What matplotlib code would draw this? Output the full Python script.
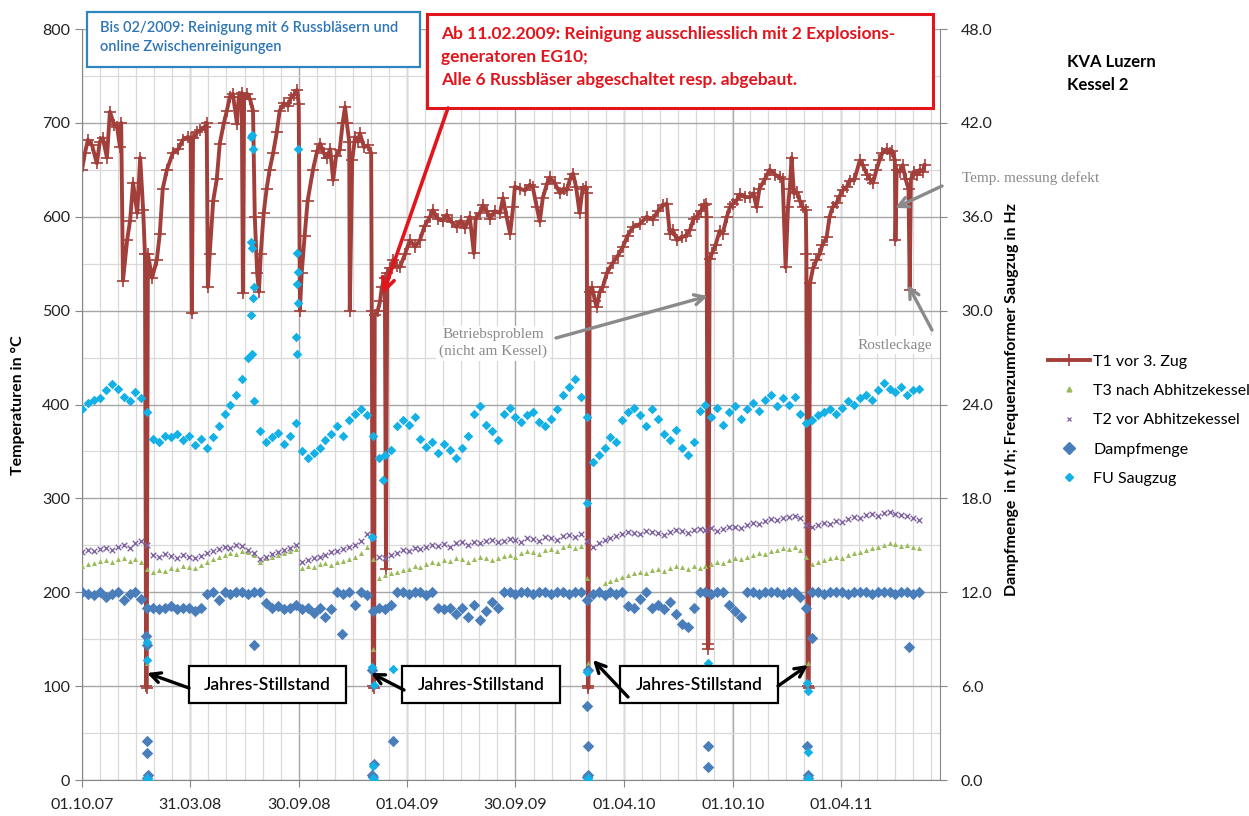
import matplotlib
matplotlib.use("Agg")
import matplotlib.pyplot as plt
import matplotlib.dates as mdates
from matplotlib.patches import Rectangle, FancyArrowPatch
from matplotlib.lines import Line2D
from matplotlib.ticker import FixedLocator, MultipleLocator, FormatStrFormatter
import pandas as pd

plt.rcParams["font.family"] = ["Lato", "DejaVu Sans"]

# -----------------------------------------------------------------------
# Data
# -----------------------------------------------------------------------
START = pd.Timestamp("2007-10-01")
END_DAY = 1445

# T1 vor 3. Zug (°C), days since START
t1_day = [0, 5, 10, 17, 25, 30, 35, 42, 47, 54, 59, 64, 66, 69, 76, 81, 86, 93, 98, 103,
          106, 108, 109, 111, 118, 126, 131, 136, 143, 153, 162, 170, 178, 183, 185, 187, 194, 199, 207, 210,
          212, 215, 221, 227, 232, 239, 244, 249, 254, 261, 264, 269, 271, 273, 278, 283, 288, 291, 295, 298,
          301, 306, 311, 316, 322, 328, 333, 340, 347, 352, 357, 362, 365, 367, 370, 375, 380, 389, 396, 401,
          407, 412, 418, 423, 428, 434, 439, 443, 446, 450, 451, 455, 460, 465, 468, 475, 481, 487, 488, 490,
          492, 493, 498, 502, 505, 510, 512, 514, 519, 524, 530, 535, 544, 552, 561, 569, 577, 586, 591, 599,
          608, 614, 623, 631, 638, 645, 653, 660, 663, 670, 675, 682, 687, 695, 704, 709, 715, 721, 726, 729,
          737, 746, 754, 759, 766, 771, 776, 783, 788, 796, 805, 811, 816, 822, 827, 832, 838, 843, 848, 850,
          852, 853, 855, 859, 864, 867, 872, 877, 884, 894, 902, 911, 919, 928, 939, 951, 961, 970, 978, 985,
          990, 995, 1002, 1010, 1017, 1024, 1030, 1035, 1042, 1047, 1051, 1052, 1054, 1055, 1057, 1061, 1067, 1074, 1079, 1086,
          1091, 1096, 1103, 1108, 1116, 1125, 1131, 1136, 1141, 1150, 1158, 1167, 1175, 1180, 1185, 1189, 1192, 1195, 1199, 1204,
          1209, 1214, 1219, 1220, 1222, 1224, 1226, 1231, 1237, 1242, 1247, 1254, 1259, 1264, 1271, 1276, 1281, 1288, 1293, 1301,
          1310, 1315, 1322, 1327, 1332, 1338, 1343, 1348, 1355, 1360, 1365, 1369, 1370, 1372, 1377, 1382, 1387, 1392, 1394, 1396,
          1401, 1406, 1411, 1416, 1419]
t1_temp = [650, 668, 682, 676, 657, 680, 684, 663, 712, 698, 696, 674, 700, 532, 575, 596, 636, 604, 663, 607,
           560, 100, 98, 560, 535, 554, 582, 630, 650, 668, 672, 682, 685, 684, 497, 684, 690, 692, 696, 700,
           525, 560, 617, 640, 678, 700, 713, 728, 731, 699, 728, 732, 519, 725, 731, 725, 713, 600, 540, 520,
           560, 604, 630, 650, 668, 690, 713, 721, 718, 727, 730, 735, 720, 500, 540, 580, 617, 650, 670, 678,
           668, 663, 672, 639, 665, 671, 700, 717, 700, 680, 500, 660, 685, 680, 689, 674, 676, 668, 500, 100,
           98, 495, 500, 510, 525, 535, 225, 540, 545, 554, 548, 546, 560, 575, 568, 575, 590, 600, 607, 598,
           596, 602, 594, 589, 596, 588, 600, 561, 598, 604, 612, 606, 598, 606, 604, 620, 600, 582, 610, 632,
           630, 628, 634, 632, 610, 595, 620, 635, 642, 636, 625, 630, 628, 640, 646, 632, 604, 630, 632, 625,
           100, 98, 520, 525, 510, 504, 520, 525, 540, 551, 558, 568, 580, 589, 592, 600, 597, 606, 612, 614,
           582, 586, 575, 578, 580, 586, 598, 600, 606, 612, 614, 600, 140, 145, 555, 561, 570, 585, 582, 600,
           610, 614, 618, 624, 621, 621, 625, 610, 630, 640, 650, 645, 642, 640, 546, 610, 630, 663, 625, 626,
           617, 610, 607, 560, 100, 98, 529, 545, 554, 560, 570, 578, 600, 610, 615, 622, 628, 632, 638, 640,
           660, 655, 645, 640, 636, 650, 660, 668, 672, 668, 670, 660, 575, 650, 648, 655, 640, 630, 522, 640,
           648, 645, 650, 648, 655]

# Regular samples every 10 days from START
SAMPLE_STEP = 10
fu_hz = [23.7, 24.1, 24.3, 24.4, 24.9, 25.3, 25.0, 24.5, 24.2, 24.8, 24.4, 23.5, 21.8, 21.6, 22.0, 21.9, 22.1, 21.7, 22.0, 21.4,
         21.8, 21.2, 21.9, 22.6, 23.4, 24.0, 24.6, 25.6, 27.0, 24.2, 22.3, 21.6, 21.9, 22.2, 21.5, 22.0, 22.8, 21.0, 20.6, 20.9,
         21.2, 21.7, 22.1, 22.6, 22.0, 23.0, 23.4, 23.7, 23.3, 22.0, 20.6, 20.8, 21.1, 22.6, 23.0, 22.7, 23.2, 21.8, 21.3, 21.6,
         20.9, 21.5, 21.1, 20.6, 21.2, 22.0, 23.4, 23.9, 22.7, 22.3, 21.7, 23.4, 23.8, 23.2, 22.9, 23.3, 23.5, 22.9, 22.6, 23.1,
         23.7, 24.6, 25.1, 25.6, 24.5, 23.2, 20.3, 20.8, 21.2, 21.9, 21.6, 23.0, 23.5, 23.8, 23.3, 22.6, 23.7, 23.1, 22.1, 21.7,
         22.4, 21.2, 20.8, 21.6, 23.6, 24.0, 23.2, 23.8, 22.7, 23.5, 23.9, 23.1, 23.7, 24.1, 23.6, 24.3, 24.6, 23.9, 24.4, 24.0,
         24.5, 23.4, 22.8, 23.0, 23.3, 23.5, 23.7, 23.4, 23.8, 24.2, 24.0, 24.4, 24.6, 24.3, 24.9, 25.4, 25.0, 24.8, 25.1, 24.6,
         24.9, 25.0]
dampf_th = [12.0, 11.9, 11.8, 12.0, 11.7, 11.9, 12.0, 11.5, 11.9, 12.0, 11.6, 11.0, 11.0, 10.9, 11.0, 11.1, 10.9, 11.0, 11.0, 10.8,
            11.0, 11.9, 12.0, 11.5, 12.0, 11.9, 12.0, 12.0, 11.9, 12.0, 12.0, 11.3, 11.0, 11.1, 10.9, 11.0, 11.2, 10.9, 11.0, 10.7,
            11.0, 10.4, 10.9, 12.0, 11.9, 12.0, 11.2, 12.0, 11.8, 10.8, 11.0, 10.9, 11.2, 12.0, 12.0, 11.9, 12.0, 12.0, 11.8, 12.0,
            11.0, 10.9, 11.0, 10.6, 11.0, 10.4, 11.2, 10.2, 10.8, 11.4, 11.0, 12.0, 12.0, 11.9, 12.0, 12.0, 11.9, 12.0, 12.0, 11.9,
            12.0, 12.0, 11.9, 12.0, 12.0, 11.5, 11.9, 12.0, 11.8, 12.0, 11.9, 12.0, 11.1, 11.0, 11.6, 12.0, 11.0, 11.2, 10.9, 11.4,
            10.6, 10.0, 9.8, 11.0, 12.0, 12.0, 11.9, 12.0, 12.0, 11.2, 10.8, 10.4, 12.0, 12.0, 11.9, 12.0, 12.0, 12.0, 11.9, 12.0,
            12.0, 11.7, 11.0, 12.0, 12.0, 11.9, 12.0, 12.0, 12.0, 11.9, 12.0, 12.0, 12.0, 11.9, 12.0, 12.0, 12.0, 11.9, 12.0, 12.0,
            11.9, 12.0]
t2_temp = [243, 245, 244, 246, 247, 245, 248, 250, 247, 252, 255, 250, 240, 238, 241, 239, 237, 240, 238, 236,
           239, 242, 244, 246, 248, 247, 250, 249, 245, 242, 235, 238, 241, 243, 245, 247, 250, 232, 234, 236,
           238, 240, 243, 244, 246, 248, 250, 255, 262, 258, 238, 236, 240, 242, 245, 244, 247, 246, 248, 250,
           249, 251, 248, 252, 253, 250, 254, 252, 255, 256, 253, 255, 257, 256, 254, 258, 257, 255, 259, 258,
           256, 260, 261, 259, 262, 255, 248, 252, 256, 258, 260, 262, 264, 263, 262, 265, 264, 263, 261, 264,
           266, 265, 263, 266, 267, 266, 268, 265, 267, 269, 270, 268, 272, 274, 273, 276, 278, 277, 279, 280,
           281, 279, 272, 270, 272, 274, 273, 276, 275, 278, 280, 279, 282, 283, 281, 284, 285, 283, 282, 281,
           279, 277]
t3_temp = [228, 230, 231, 233, 234, 232, 235, 236, 233, 235, 232, 225, 222, 224, 223, 226, 225, 228, 227, 226,
           229, 232, 235, 238, 240, 242, 241, 244, 243, 240, 232, 236, 238, 240, 242, 244, 246, 226, 228, 227,
           230, 231, 229, 232, 233, 235, 238, 242, 248, 235, 215, 218, 220, 222, 224, 225, 228, 227, 230, 232,
           231, 234, 233, 236, 235, 232, 235, 238, 236, 234, 237, 239, 240, 238, 242, 244, 243, 241, 245, 246,
           244, 248, 250, 247, 249, 215, 200, 205, 210, 212, 214, 216, 218, 220, 222, 221, 224, 225, 223, 226,
           228, 227, 225, 228, 226, 228, 230, 232, 231, 234, 236, 235, 238, 240, 242, 241, 244, 245, 247, 246,
           248, 245, 238, 230, 232, 234, 236, 238, 237, 240, 242, 243, 245, 247, 248, 250, 252, 251, 249, 250,
           248, 247]

# Outliers (shutdowns and spikes), days since START
fu_extra_day = [109, 110, 110, 111, 284, 287, 288, 285, 287, 290, 288, 284, 286,
                364, 362, 363, 362, 363, 361, 362, 489, 491, 490, 490, 491, 488, 507, 524,
                851, 852, 853, 850, 1055, 1221, 1223, 1222, 1222, 1223]
fu_extra_hz = [8.8, 7.7, 0.1, 0.0, 41.1, 41.2, 40.3, 34.4, 34.0, 31.5, 30.8, 29.7, 27.2,
               40.3, 33.7, 32.5, 31.7, 30.5, 28.3, 27.2, 7.2, 6.1, 0.9, 0.1, 0.0, 15.5, 19.2, 7.1,
               6.9, 0.1, 0.0, 17.7, 7.5, 6.2, 5.7, 1.8, 0.1, 0.0]
dampf_extra_day = [108, 110, 109, 110, 111, 110, 290, 438, 489, 490, 491, 524, 489,
                   851, 852, 852, 850, 853, 1055, 1055, 1221, 1222, 1223, 1230, 1392]
dampf_extra_th = [9.2, 8.6, 2.5, 1.7, 0.3, 0.1, 8.6, 9.3, 0.3, 0.2, 1.0, 2.5, 7.0,
                  0.2, 0.3, 2.2, 4.7, 7.0, 2.2, 0.8, 2.2, 0.3, 0.1, 9.1, 8.5]
t3_extra_day = [110, 490, 852, 1222]
t3_extra_temp = [125, 140, 125, 125]

# x-axis labels (Excel style)
tick_dates = ["2007-10-01", "2008-03-31", "2008-09-30", "2009-04-01",
              "2009-09-30", "2010-04-01", "2010-10-01", "2011-04-01"]


def days_to_dates(days):
    return START + pd.to_timedelta(days, unit="D")


t1_dates = days_to_dates(t1_day)
sample_dates = pd.date_range(START, periods=len(fu_hz), freq=f"{SAMPLE_STEP}D")

# -----------------------------------------------------------------------
# Figure
# -----------------------------------------------------------------------
W, H = 1249, 816
fig = plt.figure(figsize=(W / 100, H / 100), dpi=100)


def fx(x):
    return x / W


def fy(y):
    return 1 - y / H


ax = fig.add_axes([fx(82), fy(780), (940 - 82) / W, (780 - 29) / H])
ax2 = ax.twinx()

C_T1 = "#A33F3B"
C_T3 = "#9BBB59"
C_T2 = "#8064A2"
C_DAMPF = "#4A7EBB"
C_FU = "#14B1E7"
GRID_MAJ = "#A6A6A6"
GRID_MIN = "#D9D9D9"

ax.plot(t1_dates, t1_temp, "-", color=C_T1, lw=2.8, marker="+", ms=8, mew=1.2, zorder=2)
ax.scatter(sample_dates, t3_temp, marker="^", s=13, color=C_T3, zorder=3, linewidths=0)
ax.scatter(days_to_dates(t3_extra_day), t3_extra_temp, marker="^", s=13, color=C_T3, zorder=3, linewidths=0)
ax.scatter(sample_dates, t2_temp, marker="x", s=16, color=C_T2, zorder=3, linewidths=1.0)

ax2.scatter(sample_dates, dampf_th, marker="D", s=34, color=C_DAMPF, zorder=3, linewidths=0)
ax2.scatter(days_to_dates(dampf_extra_day), dampf_extra_th, marker="D", s=34, color=C_DAMPF, zorder=3, linewidths=0)
ax2.scatter(sample_dates, fu_hz, marker="D", s=24, color=C_FU, zorder=4, linewidths=0)
ax2.scatter(days_to_dates(fu_extra_day), fu_extra_hz, marker="D", s=24, color=C_FU, zorder=4, linewidths=0)

# axes ranges and ticks
x0 = mdates.date2num(START)
ax.set_xlim(x0, x0 + END_DAY)
ax.set_ylim(0, 800)
ax2.set_ylim(0, 48)

ax.xaxis.set_major_locator(FixedLocator(mdates.date2num(pd.to_datetime(tick_dates))))
ax.xaxis.set_major_formatter(mdates.DateFormatter("%d.%m.%y"))
ax.xaxis.set_minor_locator(FixedLocator([x0 + k * 182.5 / 6 for k in range(48)]))
ax.yaxis.set_major_locator(MultipleLocator(100))
ax.yaxis.set_minor_locator(MultipleLocator(50))
ax2.yaxis.set_major_locator(MultipleLocator(6))
ax2.yaxis.set_major_formatter(FormatStrFormatter("%.1f"))

ax.grid(which="major", color=GRID_MAJ, lw=1.0, zorder=0)
ax.grid(which="minor", color=GRID_MIN, lw=0.9, zorder=0)
ax.set_axisbelow(True)

for a in (ax, ax2):
    a.tick_params(which="major", length=5, color="#868686", labelsize=11.5, labelcolor="#222222")
    a.tick_params(which="minor", length=0)
    for s in a.spines.values():
        s.set_visible(False)
ax.spines["left"].set_visible(True)
ax.spines["left"].set_color("#868686")
ax.spines["bottom"].set_visible(True)
ax.spines["bottom"].set_color("#868686")
ax2.spines["right"].set_visible(True)
ax2.spines["right"].set_color("#868686")
ax.tick_params(axis="x", pad=8)
ax2.tick_params(axis="y", pad=10)

fig.text(fx(18), fy(405), "Temperaturen in °C", rotation=90, ha="center", va="center",
         fontsize=11.5, fontweight="bold")
fig.text(fx(1012), fy(400), "Dampfmenge  in t/h; Frequenzumformer Saugzug in Hz", rotation=90,
         ha="center", va="center", fontsize=11.5, fontweight="bold")

fig.text(fx(1067), fy(62), "KVA Luzern", fontsize=12, fontweight="bold", va="center")
fig.text(fx(1067), fy(85), "Kessel 2", fontsize=12, fontweight="bold", va="center")

# legend
handles = [
    Line2D([], [], color=C_T1, lw=2.8, marker="+", ms=8, mew=1.2),
    Line2D([], [], ls="", marker="^", ms=3.5, color=C_T3),
    Line2D([], [], ls="", marker="x", ms=3.5, mew=0.9, color=C_T2),
    Line2D([], [], ls="", marker="D", ms=6, color=C_DAMPF),
    Line2D([], [], ls="", marker="D", ms=4.5, color=C_FU),
]
labels = ["T1 vor 3. Zug", "T3 nach Abhitzekessel", "T2 vor Abhitzekessel", "Dampfmenge", "FU Saugzug"]
fig.legend(handles, labels, loc="upper left", bbox_to_anchor=(fx(1042), fy(348)), frameon=False,
           fontsize=11.5, handlelength=2.6, handletextpad=0.2, labelspacing=0.95, borderaxespad=0)


# -----------------------------------------------------------------------
# Annotations
# -----------------------------------------------------------------------
def box(x0p, y0p, x1p, y1p, ec, lw):
    fig.add_artist(Rectangle((fx(x0p), fy(y1p)), (x1p - x0p) / W, (y1p - y0p) / H,
                             transform=fig.transFigure, facecolor="white", edgecolor=ec, lw=lw, zorder=5))


def arrow(p0, p1, color, lw, head=12):
    fig.add_artist(FancyArrowPatch((fx(p0[0]), fy(p0[1])), (fx(p1[0]), fy(p1[1])),
                                   transform=fig.transFigure, arrowstyle="->", mutation_scale=head,
                                   color=color, lw=lw, zorder=6, shrinkA=0, shrinkB=0))


# blue box
box(87, 12, 420, 67, "#2E86C1", 1.6)
fig.text(fx(100), fy(28), "Bis 02/2009: Reinigung mit 6 Russbläsern und", color="#2E75B6",
         fontsize=10.5, fontweight="semibold", va="center", zorder=7)
fig.text(fx(100), fy(47), "online Zwischenreinigungen", color="#2E75B6",
         fontsize=10.5, fontweight="semibold", va="center", zorder=7)

# red box
box(427, 14, 933, 108, "#E2141C", 2.2)
for yy, s in [(34, "Ab 11.02.2009: Reinigung ausschliesslich mit 2 Explosions-"),
              (57, "generatoren EG10;"),
              (80, "Alle 6 Russbläser abgeschaltet resp. abgebaut.")]:
    fig.text(fx(441), fy(yy), s, color="#E2141C", fontsize=12.5, fontweight="bold", va="center", zorder=7)
arrow((448, 108), (383, 294), "#E2141C", 2.6, head=22)

# gray notes
GRAY = "#8A8A8A"
fig.text(fx(962), fy(178), "Temp. messung defekt", color=GRAY, fontsize=11,
         family="Liberation Serif", va="center", zorder=7)
arrow((942, 186), (895, 208), GRAY, 2.4, head=18)

fig.text(fx(493), fy(343), "Betriebsproblem\n(nicht am Kessel)", color=GRAY, fontsize=11,
         family="Liberation Serif", ha="center", va="center", linespacing=1.3, zorder=7,
         bbox=dict(facecolor="white", edgecolor="none", pad=2))
arrow((556, 338), (708, 296), GRAY, 2.4, head=18)

fig.text(fx(895), fy(345), "Rostleckage", color=GRAY, fontsize=11, family="Liberation Serif",
         ha="center", va="center", zorder=7, bbox=dict(facecolor="white", edgecolor="none", pad=2))
arrow((932, 330), (908, 285), GRAY, 2.4, head=18)

# Jahres-Stillstand boxes
for (bx0, bx1) in [(189, 346), (402, 560), (620, 778)]:
    box(bx0, 666, bx1, 703, "black", 1.6)
    fig.text(fx((bx0 + bx1) / 2), fy(685), "Jahres-Stillstand", fontsize=12.5, fontweight="semibold",
             ha="center", va="center", zorder=7)
arrow((189, 688), (147, 673), "black", 2.4, head=18)
arrow((404, 690), (371, 673), "black", 2.4, head=18)
arrow((628, 697), (593, 660), "black", 2.4, head=18)
arrow((778, 686), (808, 665), "black", 2.4, head=18)

fig.savefig("out.png", dpi=100)
